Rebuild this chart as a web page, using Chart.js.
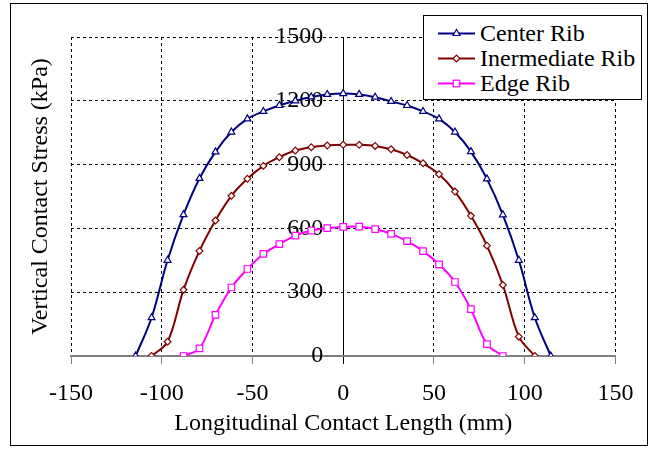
<!DOCTYPE html>
<html><head><meta charset="utf-8">
<script src="https://cdn.jsdelivr.net/npm/chart.js@4.4.1/dist/chart.umd.min.js"></script>
<style>
html,body{margin:0;padding:0;background:#fff;}
#wrap{position:relative;width:649px;height:450px;overflow:hidden;}
canvas{position:absolute;left:0;top:0;}
#frame{position:absolute;left:10px;top:3px;width:636px;height:441px;border:1px solid #000;pointer-events:none;}
#legend{position:absolute;left:0;top:0;pointer-events:none;}
</style></head>
<body><div id="wrap"><canvas id="c" width="649" height="450"></canvas><div id="frame"></div><svg id="legend" width="649" height="450" xmlns="http://www.w3.org/2000/svg"></svg></div>
<script>
// ---- data ----
const seriesNames = ['Center Rib', 'Inermediate Rib', 'Edge Rib'];
const seriesColors = ['#000080', '#800000', '#FF00FF'];
const xTickLabels = [-150, -100, -50, 0, 50, 100, 150];
const yTickLabels = [0, 300, 600, 900, 1200, 1500];

const xCenter = [-114.4,-105.6,-96.8,-88,-79.2,-70.4,-61.6,-52.8,-44,-35.2,-26.4,-17.6,-8.8,0,8.8,17.6,26.4,35.2,44,52.8,61.6,70.4,79.2,88,96.8,105.6,114.4];
const yCenter = [0,180,450,665,835,960,1053,1115,1150,1178,1200,1218,1230,1234,1230,1217,1197,1178,1150,1115,1053,961,833,664,450,180,0];

const xInter = [-105.6,-96.8,-88,-79.2,-70.4,-61.6,-52.8,-44,-35.2,-26.4,-17.6,-8.8,0,8.8,17.6,26.4,35.2,44,52.8,61.6,70.4,79.2,88,96.8,105.6];
const yInter = [0,67,311,494,637,753,833,894,935,966,982,990,993,993,988,972,945,906,855,773,659,519,334,91,0];

const xEdge = [-88,-79.2,-70.4,-61.6,-52.8,-44,-35.2,-26.4,-17.6,-8.8,0,8.8,17.6,26.4,35.2,44,52.8,61.6,70.4,79.2,88];
const yEdge = [0,36,193,322,409,480,526,566,590,601,607,608,597,574,540,493,431,348,220,56,0];

// ---- chart ----
const pairs = (xs, ys) => xs.map((x, i) => ({x: x, y: ys[i]}));
const FONT = "'Liberation Serif', 'Times New Roman', serif";
Chart.defaults.font.family = FONT;
Chart.defaults.font.size = 24;
Chart.defaults.color = '#000';

function ds(i, xs, ys, style, r) {
  return {
    label: seriesNames[i], data: pairs(xs, ys),
    borderColor: seriesColors[i], borderWidth: 2,
    pointStyle: style, pointRadius: r, pointBorderWidth: 1.2,
    pointBorderColor: seriesColors[i], pointBackgroundColor: '#fff',
    tension: 0.35, fill: false, showLine: true
  };
}

new Chart(document.getElementById('c'), {
  type: 'line',
  data: { datasets: [
    ds(0, xCenter, yCenter, 'triangle', 4),
    ds(1, xInter, yInter, 'rectRot', 3.4),
    ds(2, xEdge, yEdge, 'rect', 4.6)
  ]},
  options: {
    responsive: false, animation: false, devicePixelRatio: 1,
    layout: { padding: { left: 14, top: 37, right: 33, bottom: 11.6 } },
    plugins: { legend: { display: false }, tooltip: { enabled: false } },
    scales: {
      x: {
        type: 'linear', position: 'bottom', min: -150, max: 150,
        afterBuildTicks: s => { s.ticks = xTickLabels.map(v => ({value: v})); },
        ticks: { color: '#000', font: { family: FONT, size: 24 }, padding: 15.6, maxRotation: 0,
          callback: v => String(v) },
        grid: { color: '#000', lineWidth: 1, tickLength: 8,
          tickColor: c => (c.tick && c.tick.value === 0) ? '#000' : '#808080',
          tickBorderDash: [], tickWidth: 1 },
        border: { display: true, color: '#808080', width: 2,
          dash: c => (c.tick && c.tick.value === 0) ? [] : [3, 3] },
        title: { display: true, text: 'Longitudinal Contact Length (mm)', color: '#000',
          font: { family: FONT, size: 24 }, padding: { top: -14.4, bottom: 0 } }
      },
      y: {
        type: 'linear', position: { x: -11 }, min: 0, max: 1500,
        afterBuildTicks: s => { s.ticks = yTickLabels.map(v => ({value: v})); },
        ticks: { color: '#000', font: { family: FONT, size: 24 }, padding: 0,
          callback: v => String(v) },
        grid: { color: c => (c.tick && c.tick.value === 0) ? 'rgba(0,0,0,0)' : '#000',
          lineWidth: 1, drawTicks: false },
        border: { display: false, dash: [3, 3] }
      },
      yTitle: {
        type: 'linear', position: 'left', min: 0, max: 1500,
        ticks: { display: false },
        grid: { display: false, drawTicks: false },
        border: { display: false },
        title: { display: true, text: 'Vertical Contact Stress (kPa)', color: '#000',
          font: { family: FONT, size: 24 }, padding: { top: 12.6, bottom: 15.6 } }
      }
    }
  }
});

// ---- legend (SVG, real text) ----
(function () {
  const svg = document.getElementById('legend');
  const NS = 'http://www.w3.org/2000/svg';
  const mk = (tag, attrs) => { const e = document.createElementNS(NS, tag); for (const k in attrs) e.setAttribute(k, attrs[k]); svg.appendChild(e); return e; };
  mk('rect', { x: 423.5, y: 15.5, width: 218, height: 84, fill: '#fff', stroke: '#000', 'stroke-width': 1 });
  const rowsY = [33.5, 58.5, 83.5];
  const shapes = ['triangle', 'diamond', 'square'];
  seriesNames.forEach((name, i) => {
    const y = rowsY[i], cx = 456.5, col = seriesColors[i];
    mk('line', { x1: 438, y1: y, x2: 475, y2: y, stroke: col, 'stroke-width': 2 });
    if (shapes[i] === 'triangle') mk('path', { d: `M${cx},${y-4} L${cx+3.5},${y+2} L${cx-3.5},${y+2} Z`, fill: '#fff', stroke: col, 'stroke-width': 1.2 });
    if (shapes[i] === 'diamond') mk('path', { d: `M${cx},${y-3.4} L${cx+3.4},${y} L${cx},${y+3.4} L${cx-3.4},${y} Z`, fill: '#fff', stroke: col, 'stroke-width': 1.2 });
    if (shapes[i] === 'square') mk('rect', { x: cx-3.3, y: y-3.3, width: 6.6, height: 6.6, fill: '#fff', stroke: col, 'stroke-width': 1.2 });
    const t = mk('text', { x: 480, y: y + 7.5, 'font-family': FONT, 'font-size': 24, fill: '#000' });
    t.textContent = name;
  });
})();
</script>
</body></html>
